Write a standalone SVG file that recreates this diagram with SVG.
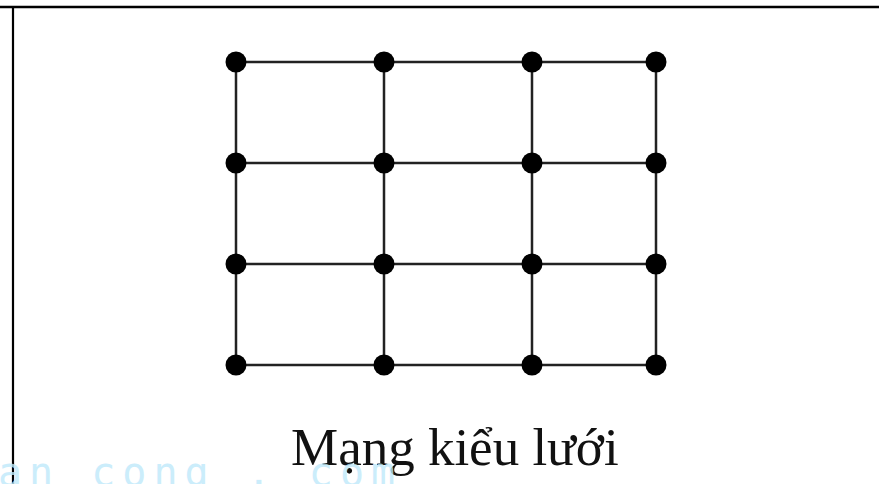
<svg xmlns="http://www.w3.org/2000/svg" width="879" height="484" viewBox="0 0 879 484">
<style>
.edge{stroke:#222;stroke-width:2.5;fill:none}
.node{fill:#000}
.border{stroke:#000;fill:none}
.title{font-family:"Liberation Serif","Times New Roman",serif;font-size:53px;fill:#111}
.wm{font-family:"DejaVu Sans Mono",monospace;font-size:40px;letter-spacing:7px;fill:#bfe9fb;opacity:0.8}
</style>
<rect width="879" height="484" fill="#fff"/>
<g id="frame">
<line class="border" x1="0" y1="7" x2="879" y2="7" stroke-width="2.6"/>
<line class="border" x1="13" y1="6" x2="13" y2="484" stroke-width="2.2"/>
</g>
<g id="connectors">
<line class="edge" x1="236" y1="62" x2="656" y2="62"/>
<line class="edge" x1="236" y1="163" x2="656" y2="163"/>
<line class="edge" x1="236" y1="264" x2="656" y2="264"/>
<line class="edge" x1="236" y1="365" x2="656" y2="365"/>
<line class="edge" x1="236" y1="62" x2="236" y2="365"/>
<line class="edge" x1="384" y1="62" x2="384" y2="365"/>
<line class="edge" x1="532" y1="62" x2="532" y2="365"/>
<line class="edge" x1="656" y1="62" x2="656" y2="365"/>
</g>
<g id="nodes">
<g id="n11"><circle class="node" cx="236" cy="62" r="10.5"/></g>
<g id="n12"><circle class="node" cx="384" cy="62" r="10.5"/></g>
<g id="n13"><circle class="node" cx="532" cy="62" r="10.5"/></g>
<g id="n14"><circle class="node" cx="656" cy="62" r="10.5"/></g>
<g id="n21"><circle class="node" cx="236" cy="163" r="10.5"/></g>
<g id="n22"><circle class="node" cx="384" cy="163" r="10.5"/></g>
<g id="n23"><circle class="node" cx="532" cy="163" r="10.5"/></g>
<g id="n24"><circle class="node" cx="656" cy="163" r="10.5"/></g>
<g id="n31"><circle class="node" cx="236" cy="264" r="10.5"/></g>
<g id="n32"><circle class="node" cx="384" cy="264" r="10.5"/></g>
<g id="n33"><circle class="node" cx="532" cy="264" r="10.5"/></g>
<g id="n34"><circle class="node" cx="656" cy="264" r="10.5"/></g>
<g id="n41"><circle class="node" cx="236" cy="365" r="10.5"/></g>
<g id="n42"><circle class="node" cx="384" cy="365" r="10.5"/></g>
<g id="n43"><circle class="node" cx="532" cy="365" r="10.5"/></g>
<g id="n44"><circle class="node" cx="656" cy="365" r="10.5"/></g>
</g>
<g id="caption">
<text class="title" x="291" y="465">Mạng kiểu lưới</text>
</g>
<g id="watermark">
<text class="wm" x="-2" y="486">an cong . com</text>
</g>
</svg>
